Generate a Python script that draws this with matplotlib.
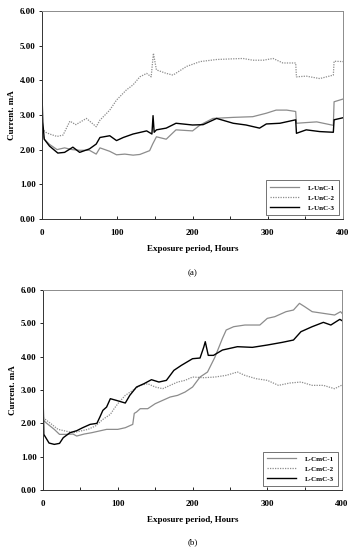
import matplotlib
matplotlib.use("Agg")
import matplotlib.pyplot as plt

plt.rcParams.update({
    "font.family": ["Liberation Serif", "DejaVu Serif"],
    "font.weight": "bold",
    "axes.labelweight": "bold",
})

# ── Panel (a): L-UnC series ──────────────────────────────────────────────────
a1_hours = [0, 3, 10, 20, 30, 40, 50, 63, 72, 77, 90, 99, 110, 121, 130, 143, 147,
            152, 165, 178, 200, 210, 227, 254, 280, 298, 311, 325, 337, 338, 351,
            365, 387, 388, 400]
a1_vals = [2.50, 2.30, 2.15, 2.00, 2.05, 2.00, 1.98, 1.98, 1.87, 2.05, 1.95, 1.85,
           1.87, 1.84, 1.86, 1.97, 2.16, 2.37, 2.30, 2.57, 2.54, 2.71, 2.90, 2.93,
           2.95, 3.05, 3.14, 3.14, 3.10, 2.76, 2.78, 2.80, 2.70, 3.38, 3.46]

a2_hours = [0, 5, 10, 20, 28, 37, 45, 59, 72, 77, 90, 99, 112, 121, 130, 139, 145,
            148, 152, 165, 174, 192, 210, 232, 254, 267, 280, 294, 307, 320, 337,
            338, 351, 369, 387, 388, 400]
a2_vals = [2.60, 2.50, 2.45, 2.38, 2.42, 2.82, 2.72, 2.90, 2.66, 2.85, 3.14, 3.43,
           3.72, 3.87, 4.10, 4.20, 4.10, 4.78, 4.30, 4.20, 4.15, 4.40, 4.54, 4.60,
           4.62, 4.63, 4.58, 4.58, 4.63, 4.50, 4.50, 4.10, 4.12, 4.05, 4.15, 4.55,
           4.54]

a3_hours = [0, 1, 3, 10, 21, 30, 41, 50, 63, 72, 77, 90, 99, 108, 121, 139, 146,
            147.5, 149, 152, 165, 178, 200, 214, 232, 254, 271, 289, 298, 316, 337,
            338, 351, 369, 387, 388, 400]
a3_vals = [3.60, 2.80, 2.30, 2.10, 1.90, 1.92, 2.07, 1.92, 2.02, 2.16, 2.35, 2.40,
           2.26, 2.35, 2.45, 2.54, 2.45, 2.98, 2.50, 2.57, 2.62, 2.76, 2.71, 2.72,
           2.90, 2.76, 2.71, 2.62, 2.74, 2.76, 2.86, 2.47, 2.57, 2.52, 2.50, 2.86,
           2.92]

# ── Panel (b): L-CmC series ──────────────────────────────────────────────────
b1_hours = [0, 5, 15, 22, 30, 40, 45, 55, 65, 75, 85, 100, 110, 120, 122, 125, 130,
            140, 150, 160, 170, 180, 190, 200, 210, 220, 230, 240, 245, 255, 270,
            290, 300, 310, 325, 335, 343, 350, 360, 375, 390, 398, 400]
b1_vals = [2.10, 2.00, 1.82, 1.67, 1.67, 1.68, 1.62, 1.68, 1.72, 1.77, 1.82, 1.82,
           1.87, 1.97, 2.30, 2.34, 2.44, 2.44, 2.59, 2.69, 2.79, 2.84, 2.94, 3.09,
           3.39, 3.54, 3.99, 4.55, 4.80, 4.90, 4.95, 4.95, 5.15, 5.20, 5.35, 5.40,
           5.60, 5.50, 5.35, 5.30, 5.25, 5.35, 5.30]

b2_hours = [0, 10, 20, 30, 40, 50, 60, 70, 80, 90, 95, 100, 110, 120, 130, 140, 150,
            160, 170, 180, 190, 200, 215, 230, 245, 260, 270, 285, 300, 315, 330,
            345, 360, 375, 390, 400]
b2_vals = [2.17, 2.00, 1.82, 1.77, 1.72, 1.77, 1.82, 1.92, 2.12, 2.27, 2.44, 2.59,
           2.84, 2.99, 3.14, 3.19, 3.09, 3.04, 3.14, 3.24, 3.29, 3.39, 3.37, 3.39,
           3.44, 3.54, 3.44, 3.34, 3.29, 3.14, 3.21, 3.24, 3.14, 3.14, 3.04, 3.15]

b3_hours = [0, 1, 8, 15, 22, 27, 36, 45, 53, 63, 72, 76, 80, 85, 90, 98, 110, 116,
            125, 135, 145, 155, 165, 175, 185, 200, 210, 215, 217, 221, 228, 240,
            260, 280, 300, 320, 335, 345, 360, 375, 385, 392, 397, 400]
b3_vals = [2.85, 1.67, 1.41, 1.37, 1.40, 1.57, 1.72, 1.78, 1.87, 1.97, 2.00, 2.19,
           2.39, 2.49, 2.74, 2.69, 2.61, 2.84, 3.09, 3.19, 3.31, 3.24, 3.29, 3.59,
           3.74, 3.94, 3.96, 4.29, 4.45, 4.04, 4.04, 4.20, 4.30, 4.28, 4.35, 4.43,
           4.50, 4.75, 4.90, 5.03, 4.95, 5.05, 5.12, 5.08]

yticks = [0, 1, 2, 3, 4, 5, 6]
xticks = [0, 100, 200, 300, 400]

GRAY = "#8c8c8c"
FS = 6.5


def style_axes(ax):
    ax.set_xlim(0, 400)
    ax.set_ylim(0, 6)
    ax.set_yticks(yticks)
    ax.set_yticklabels([f"{v:.2f}" for v in yticks])
    ax.set_xticks(xticks)
    ax.set_xticks(range(0, 401, 50), minor=True)
    ax.tick_params(axis="y", direction="out", length=2.5, width=0.6, labelsize=FS, pad=2)
    ax.tick_params(axis="x", which="both", direction="in", length=2.5, width=0.6,
                   labelsize=FS, pad=7)
    for s in ax.spines.values():
        s.set_color(GRAY)
        s.set_linewidth(0.7)
    ax.spines["left"].set_color("#333333")
    ax.spines["bottom"].set_color("#333333")
    ax.set_xlabel("Exposure period, Hours", fontsize=FS, labelpad=6)
    ax.set_ylabel("Current. mA", fontsize=FS, labelpad=3)


fig = plt.figure(figsize=(3.53, 5.5), dpi=100)
ax1 = fig.add_axes([0.119, 0.602, 0.853, 0.378])
ax2 = fig.add_axes([0.122, 0.109, 0.847, 0.3637])

ax1.plot(a1_hours, a1_vals, color=GRAY, lw=0.9, label="L-UnC-1")
ax1.plot(a2_hours, a2_vals, color=GRAY, lw=0.9, ls=(0, (1, 1)), label="L-UnC-2")
ax1.plot(a3_hours, a3_vals, color="black", lw=1.0, label="L-UnC-3")

ax2.plot(b1_hours, b1_vals, color=GRAY, lw=0.9, label="L-CmC-1")
ax2.plot(b2_hours, b2_vals, color=GRAY, lw=0.9, ls=(0, (1, 1)), label="L-CmC-2")
ax2.plot(b3_hours, b3_vals, color="black", lw=1.0, label="L-CmC-3")

for ax, tag in [(ax1, "(a)"), (ax2, "(b)")]:
    style_axes(ax)
    leg = ax.legend(loc="lower right", fontsize=5, frameon=True, fancybox=False,
                    edgecolor="#333333", borderaxespad=0.6, handlelength=4.2,
                    handletextpad=1.2, labelspacing=0.6, borderpad=0.6)
    leg.get_frame().set_linewidth(0.6)
    ax.text(0.5, -0.26, tag, transform=ax.transAxes, ha="center", va="center",
            fontsize=FS, fontweight="normal")

fig.savefig("out.png", dpi=100)
